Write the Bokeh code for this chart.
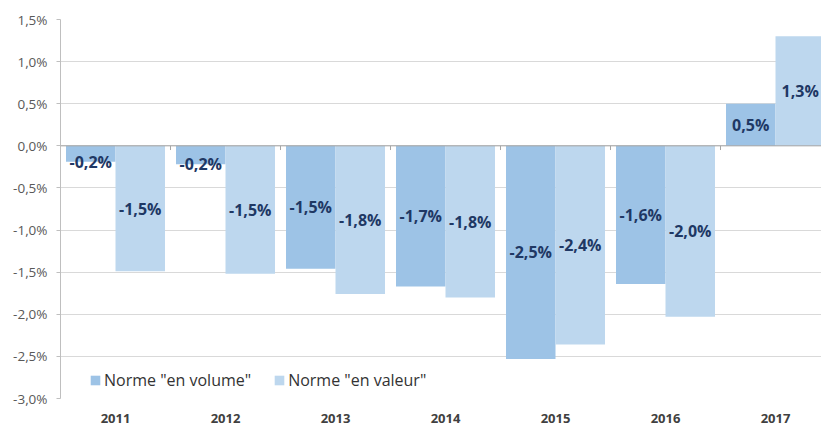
from bokeh.plotting import figure
from bokeh.models import Range1d, FixedTicker, Span, Legend, LegendItem, ColumnDataSource
from bokeh.core.properties import value
from bokeh.embed import file_html
from bokeh.resources import INLINE

years = ["2011", "2012", "2013", "2014", "2015", "2016", "2017"]
volume = [-0.19, -0.22, -1.46, -1.67, -2.53, -1.64, 0.50]
valeur = [-1.49, -1.52, -1.76, -1.80, -2.36, -2.03, 1.30]
series_names = ['Norme "en volume"', 'Norme "en valeur"']
y_ticks = [1.5, 1.0, 0.5, 0.0, -0.5, -1.0, -1.5, -2.0, -2.5, -3.0]
y_tick_labels = ["1,5%", "1,0%", "0,5%", "0,0%", "-0,5%", "-1,0%", "-1,5%", "-2,0%", "-2,5%", "-3,0%"]

COL_VOL = "#9DC3E6"
COL_VAL = "#BDD7EE"
FONT = "Open Sans"

W, H = 821, 425
LEFT = 60
frame_w = W - LEFT
cat_px = 110.0

p = figure(width=W, height=H, output_backend="svg", toolbar_location=None,
           x_range=Range1d(-0.5, -0.5 + frame_w / cat_px),
           y_range=Range1d(-3.0, 1.5),
           min_border_left=LEFT, min_border_right=0, min_border_top=19, min_border_bottom=26)
p.outline_line_color = None
p.background_fill_color = "white"

def fmt(v):
    return ("%.1f" % v).replace(".", ",") + "%"

n = len(years)
xs = list(range(n))
bw = 0.45
src_vol = ColumnDataSource(dict(x=[i - bw / 2 for i in xs], top=volume))
src_val = ColumnDataSource(dict(x=[i + bw / 2 for i in xs], top=valeur))
r_vol = p.vbar(x="x", top="top", bottom=0, width=bw, source=src_vol, fill_color=COL_VOL, line_color=None)
r_val = p.vbar(x="x", top="top", bottom=0, width=bw, source=src_val, fill_color=COL_VAL, line_color=None)

# zero line and small boundary ticks
p.add_layout(Span(location=0, dimension="width", line_color="#A6A6A6", line_width=1))
bounds = [i + 0.5 for i in range(n)]
p.segment(x0=bounds, y0=[0] * n, x1=bounds, y1=[-0.05] * n, line_color="#A6A6A6", line_width=1)

# data labels
def label_y(v):
    return v / 2 if abs(v) > 0.3 else v

lab_x = [i - bw / 2 for i in xs] + [i + bw / 2 for i in xs]
lab_y = [label_y(v) for v in volume] + [label_y(v) for v in valeur]
lab_t = [fmt(v) for v in volume] + [fmt(v) for v in valeur]
p.text(x=lab_x, y=lab_y, text=lab_t, text_align="center", text_baseline="middle",
       text_font=value(FONT), text_font_style="bold", text_font_size="16px", text_color="#1F3864")

# axes
p.yaxis.ticker = FixedTicker(ticks=y_ticks)
p.yaxis.major_label_overrides = {t: l for t, l in zip(y_ticks, y_tick_labels)}
p.yaxis.axis_line_color = "#BFBFBF"
p.yaxis.major_tick_line_color = "#BFBFBF"
p.yaxis.major_tick_out = 4
p.yaxis.major_tick_in = 0
p.yaxis.minor_tick_line_color = None
p.yaxis.major_label_text_font = FONT
p.yaxis.major_label_text_font_size = "13.5px"
p.yaxis.major_label_text_color = "#595959"
p.yaxis.major_label_standoff = 9

p.xaxis.ticker = FixedTicker(ticks=xs)
p.xaxis.major_label_overrides = {i: y for i, y in zip(xs, years)}
p.xaxis.axis_line_color = None
p.xaxis.major_tick_line_color = None
p.xaxis.minor_tick_line_color = None
p.xaxis.major_label_text_font = FONT
p.xaxis.major_label_text_font_style = "bold"
p.xaxis.major_label_text_font_size = "13px"
p.xaxis.major_label_text_color = "#404040"
p.xaxis.major_label_standoff = 9

p.xgrid.grid_line_color = None
p.ygrid.ticker = FixedTicker(ticks=y_ticks)
p.ygrid.grid_line_color = "#D9D9D9"

legend = Legend(items=[LegendItem(label=series_names[0], renderers=[r_vol]),
                       LegendItem(label=series_names[1], renderers=[r_val])],
                orientation="horizontal", location=(29, 7), padding=0, spacing=22,
                glyph_width=12, glyph_height=12, label_standoff=3,
                label_text_font=FONT, label_text_font_size="16px", label_text_color="#333333",
                background_fill_alpha=0, border_line_alpha=0)
p.add_layout(legend, "center")

open("out.html", "w").write(file_html(p, INLINE))
